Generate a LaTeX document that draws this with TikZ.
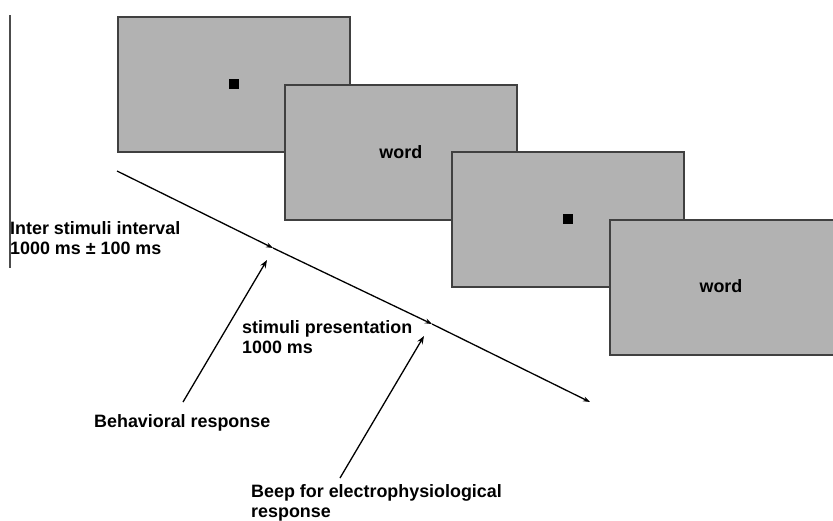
\documentclass[tikz,border=0pt]{standalone}
\usepackage{fontspec}
\setmainfont{Liberation Sans}
\usetikzlibrary{arrows.meta}
\begin{document}
\begin{tikzpicture}[x=1pt,y=-1pt,
  txt/.style={font=\fontsize{17.9}{20}\selectfont\bfseries},
  screen/.style={draw=black!75,line width=1.6pt,fill=black!30,minimum width=232pt,minimum height=135pt,inner sep=0pt,anchor=north west,txt},
  fix/.style={fill=black,minimum size=10pt,inner sep=0pt},
  lbl/.style={anchor=north west,inner sep=0pt,align=left,txt},
  tline/.style={line width=1.3pt,-{Stealth[length=7pt,width=5pt]}},
  ptr/.style={line width=1.3pt,-{Stealth[length=8pt,width=6pt]}}]
\useasboundingbox (0,0) rectangle (833,520);
% left vertical line
\coordinate (vtop) at (10,15);
\coordinate (vbot) at (10,268);
\draw[line width=1.2pt,black!70] (vtop) -- (vbot);
% screens
\node[screen] (s1) at (117,16) {};
\node[fix] (f1) at (s1.center) {};
\node[screen] (s2) at (284,84) {word};
\node[screen] (s3) at (451,151) {};
\node[fix] (f2) at (s3.center) {};
\node[screen] (s4) at (609,219) {};
\node[txt] (w4) at (721,286) {word};
% time line
\coordinate (t0) at (117,171);
\coordinate (m1) at (273,248);
\coordinate (m2) at (432,324);
\coordinate (t3) at (590,402);
\draw[tline] (t0) -- (m1);
\draw[tline] (m1) -- (m2);
\draw[tline] (m2) -- (t3);
% labels
\node[lbl] (isi) at (10,221) {Inter stimuli interval\\1000 ms ± 100 ms};
\node[lbl] (pres) at (242,320) {stimuli presentation\\1000 ms};
\node[lbl] (beh) at (94,414) {Behavioral response};
\node[lbl] (beep) at (251,484) {Beep for electrophysiological\\response};
% pointers
\coordinate (b0) at (183,402);
\coordinate (b1) at (267,260);
\coordinate (e0) at (340,478);
\coordinate (e1) at (424,336);
\draw[ptr] (b0) -- (b1);
\draw[ptr] (e0) -- (e1);
\end{tikzpicture}
\end{document}
